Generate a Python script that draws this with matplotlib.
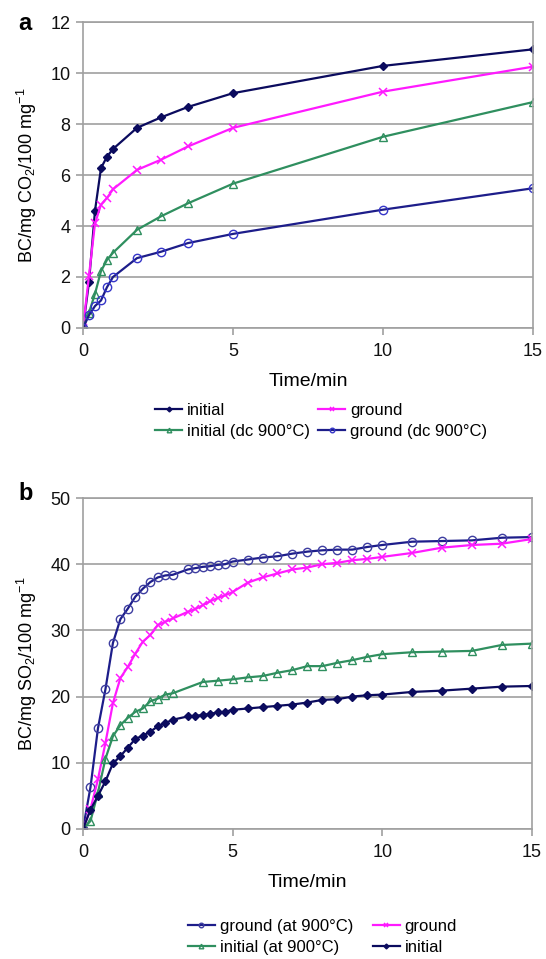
import matplotlib
matplotlib.use("Agg")
from matplotlib import pyplot as plt

plt.rcParams['font.family'] = ['Liberation Sans', 'DejaVu Sans']
plt.rcParams['mathtext.fontset'] = 'custom'
plt.rcParams['mathtext.rm'] = 'Liberation Sans'
plt.rcParams['mathtext.default'] = 'regular'

# panel a (CO2)
t_a = [0, 0.2, 0.4, 0.6, 0.8, 1.0, 1.8, 2.6, 3.5, 5, 10, 15]
a_initial = [0, 1.8, 4.6, 6.27, 6.72, 7.02, 7.85, 8.26, 8.67, 9.21, 10.28, 10.93]
a_ground = [0, 2.05, 4.1, 4.84, 5.1, 5.44, 6.2, 6.6, 7.12, 7.85, 9.27, 10.25]
a_initial_dc = [0, 0.6, 1.34, 2.23, 2.67, 2.95, 3.85, 4.38, 4.89, 5.66, 7.5, 8.86]
a_ground_dc = [0, 0.5, 0.86, 1.08, 1.6, 2.0, 2.74, 2.99, 3.33, 3.69, 4.64, 5.48]

# panel b (SO2)
t_b = [0, 0.25, 0.5, 0.75, 1.0, 1.25, 1.5, 1.75, 2.0, 2.25, 2.5, 2.75, 3.0,
       3.5, 3.75, 4.0, 4.25, 4.5, 4.75, 5.0, 5.5, 6, 6.5, 7, 7.5, 8, 8.5,
       9, 9.5, 10, 11, 12, 13, 14, 15]
b_ground_900 = [0, 6.3, 15.2, 21.1, 28.1, 31.7, 33.3, 35.1, 36.3, 37.3, 38.0,
                38.3, 38.4, 39.2, 39.4, 39.6, 39.7, 39.9, 40.0, 40.4, 40.7,
                41.0, 41.2, 41.6, 41.9, 42.1, 42.2, 42.2, 42.6, 42.9, 43.4,
                43.5, 43.6, 44.0, 44.1]
b_ground = [0, 3.0, 7.5, 13.0, 19.0, 22.8, 24.5, 26.5, 28.3, 29.3, 30.8, 31.3,
            31.8, 32.8, 33.2, 33.8, 34.4, 34.9, 35.3, 35.8, 37.2, 38.0, 38.6,
            39.2, 39.5, 40.0, 40.2, 40.6, 40.8, 41.1, 41.7, 42.5, 42.9, 43.1,
            43.8]
b_initial = [0, 2.9, 5.0, 7.2, 9.9, 11.0, 12.3, 13.6, 14.1, 14.7, 15.5, 16.0,
             16.5, 17.0, 17.1, 17.2, 17.4, 17.6, 17.7, 18.0, 18.2, 18.4, 18.6,
             18.8, 19.1, 19.5, 19.6, 20.0, 20.2, 20.3, 20.7, 20.9, 21.2, 21.5,
             21.6]
t_b_green = [0, 0.25, 0.5, 0.75, 1.0, 1.25, 1.5, 1.75, 2.0, 2.25, 2.5, 2.75,
             3.0, 4.0, 4.5, 5.0, 5.5, 6, 6.5, 7, 7.5, 8, 8.5, 9, 9.5, 10, 11,
             12, 13, 14, 15]
b_initial_900 = [0, 1.2, 5.5, 10.6, 14.0, 15.7, 16.8, 17.7, 18.2, 19.3, 19.7,
                 20.3, 20.5, 22.2, 22.4, 22.6, 22.9, 23.1, 23.6, 24.0, 24.6,
                 24.6, 25.1, 25.5, 26.0, 26.4, 26.7, 26.8, 26.9, 27.8, 28.0]

navy = '#0b0b5e'
pink = '#ff1aff'
green = '#2f8f5f'
blue_line = '#1d1d8a'
blue_mk = '#3535c8'
grid_c = '#a0a0a0'

fig = plt.figure(figsize=(5.46, 9.59), dpi=100)
ax1 = fig.add_axes([0.152, 0.658, 0.824, 0.319])
ax2 = fig.add_axes([0.152, 0.1356, 0.822, 0.3451])


def style(ax, ymax, ystep):
    ax.set_xlim(0, 15)
    ax.set_ylim(0, ymax)
    ax.set_xticks([0, 5, 10, 15])
    ax.set_yticks(range(0, ymax + 1, ystep))
    ax.yaxis.grid(True, color=grid_c, linewidth=1.2)
    ax.set_axisbelow(True)
    for s in ax.spines.values():
        s.set_color(grid_c)
        s.set_linewidth(1.2)
    ax.tick_params(axis='both', colors=grid_c, labelcolor='#111111',
                   labelsize=13, length=5, width=1.2, direction='out')
    ax.tick_params(axis='x', pad=6)
    ax.tick_params(axis='y', pad=4)
    ax.set_xlabel('Time/min', fontsize=14, labelpad=9)


ms = 6
l1, = ax1.plot(t_a, a_initial, color=navy, marker='D', ms=4.5, lw=1.6,
               mfc=navy, mec=navy, label='initial')
l2, = ax1.plot(t_a, a_ground, color=pink, marker='x', ms=ms, lw=1.6,
               mew=1.1, label='ground')
l3, = ax1.plot(t_a, a_initial_dc, color=green, marker='^', ms=ms, lw=1.6,
               mfc='none', mec=green, label='initial (dc 900°C)')
l4, = ax1.plot(t_a, a_ground_dc, color=blue_line, marker='o', ms=ms, lw=1.6,
               mfc='none', mec=blue_mk, label='ground (dc 900°C)')
style(ax1, 12, 2)
ax1.set_ylabel('BC/mg CO$_2$/100 mg$^{-1}$', fontsize=13, labelpad=8)
fig.text(0.033, 0.975, 'a', fontsize=17, fontweight='bold', va='center')

fig.legend([l1, l3, l2, l4], [l.get_label() for l in (l1, l3, l2, l4)],
           ncol=2, loc='upper left', bbox_to_anchor=(0.272, 0.587),
           frameon=False, fontsize=12, handlelength=1.6, handletextpad=0.3,
           columnspacing=0.5, labelspacing=0.35, markerscale=0.55,
           borderaxespad=0)

m1, = ax2.plot(t_b, b_ground_900, color=blue_line, marker='o', ms=ms, lw=1.6,
               mfc='none', mec='#3d3da0', label='ground (at 900°C)')
m2, = ax2.plot(t_b, b_ground, color=pink, marker='x', ms=ms, lw=1.6,
               mew=1.1, label='ground')
m3, = ax2.plot(t_b_green, b_initial_900, color=green, marker='^', ms=ms,
               lw=1.6, mfc='none', mec=green, label='initial (at 900°C)')
m4, = ax2.plot(t_b, b_initial, color=navy, marker='D', ms=4.5, lw=1.6,
               mfc=navy, mec=navy, label='initial')
style(ax2, 50, 10)
ax2.set_ylabel('BC/mg SO$_2$/100 mg$^{-1}$', fontsize=13, labelpad=8)
fig.text(0.033, 0.485, 'b', fontsize=17, fontweight='bold', va='center')

fig.legend([m1, m3, m2, m4], [l.get_label() for l in (m1, m3, m2, m4)],
           ncol=2, loc='upper left', bbox_to_anchor=(0.332, 0.049),
           frameon=False, fontsize=12, handlelength=1.6, handletextpad=0.3,
           columnspacing=1.2, labelspacing=0.35, markerscale=0.55,
           borderaxespad=0)

fig.savefig('out.png', dpi=100)
